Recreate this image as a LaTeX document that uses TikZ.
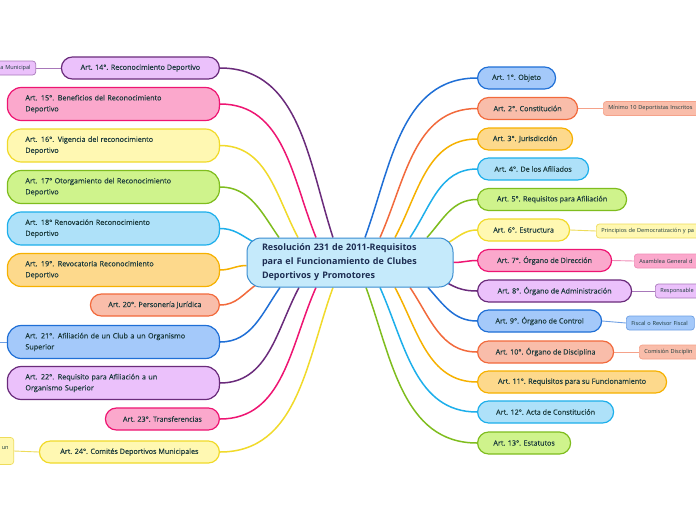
\documentclass[tikz,border=0pt]{standalone}
\usepackage{fontspec}
\setmainfont{Open Sans}
\newfontfamily\kidfont{Open Sans}[FakeBold=0.35]
\usetikzlibrary{backgrounds}
\definecolor{txt}{HTML}{1B3A3C}
\definecolor{ctxt}{HTML}{1D2D52}
\definecolor{blueF}{HTML}{A4C9FA}\definecolor{blueD}{HTML}{1F6FD6}
\definecolor{redF}{HTML}{F9BDAA}\definecolor{redD}{HTML}{F26A3C}
\definecolor{orF}{HTML}{FDD98C}\definecolor{orD}{HTML}{F6B100}
\definecolor{cyF}{HTML}{AEE1F9}\definecolor{cyD}{HTML}{1DAFEB}
\definecolor{grF}{HTML}{CFF38C}\definecolor{grD}{HTML}{7FBD1E}
\definecolor{yeF}{HTML}{FFF8B2}\definecolor{yeD}{HTML}{F1DA2A}
\definecolor{mgF}{HTML}{FBA8CC}\definecolor{mgD}{HTML}{EE1572}
\definecolor{puF}{HTML}{EBC1FB}\definecolor{puD}{HTML}{6A2B7B}
\definecolor{cenF}{HTML}{C5EAFB}\definecolor{cenD}{HTML}{3A8DD0}
\definecolor{subre}{HTML}{F5A28A}\definecolor{subye}{HTML}{EEDC5A}
\definecolor{submg}{HTML}{F08DB8}\definecolor{subpu}{HTML}{A878BA}
\definecolor{subbl}{HTML}{6E9FE4}
\begin{document}
\begin{tikzpicture}[x=1pt,y=-1pt,
  base/.style={draw, line width=1.2pt, text=txt, font=\kidfont\fontsize{7.2}{11}\selectfont, inner ysep=0pt},
  one/.style={base, minimum height=22, rounded corners=11, inner xsep=4},
  two/.style={base, minimum height=33, rounded corners=14, text width=176, inner xsep=18, align=left},
  subn/.style={draw, line width=0.7pt, text=txt, font=\fontsize{5.6}{7}\selectfont, minimum height=14, rounded corners=3, inner xsep=5, inner ysep=0pt},
  subr/.style={subn, anchor=west, text width=110, align=left},
  subl/.style={subn, anchor=east, text width=70, align=right},
  link/.style={line width=1.5pt},
  sublink/.style={line width=0.9pt},
  kbl/.style={fill=blueF,draw=blueD}, kre/.style={fill=redF,draw=redD},
  kor/.style={fill=orF,draw=orD}, kcy/.style={fill=cyF,draw=cyD},
  kgr/.style={fill=grF,draw=grD}, kye/.style={fill=yeF,draw=yeD},
  kmg/.style={fill=mgF,draw=mgD}, kpu/.style={fill=puF,draw=puD}]
\useasboundingbox (0,0) rectangle (696,520);
\clip (0,0) rectangle (696,520);
% centre
\node[draw=cenD, fill=cenF, line width=1pt, rounded corners=14, minimum width=206, minimum height=49,
      text width=176, inner xsep=15, align=left, text=ctxt,
      font=\fontsize{9}{14}\selectfont\bfseries] (c) at (350,262.5)
  {Resolución 231 de 2011-Requisitos\\para el Funcionamiento de Clubes\\Deportivos y Promotores};
% left
\node[one,kpu,minimum width=158,anchor=east] (n14) at (220,68) {Art. 14°. Reconocimiento Deportivo};
\node[two,kmg,anchor=east] (n15) at (220,104) {\mbox{Art. 15°. Beneficios del Reconocimiento}\\Deportivo};
\node[two,kye,anchor=east] (n16) at (220,145.5) {\mbox{Art. 16°. Vigencia del reconocimiento}\\Deportivo};
\node[two,kgr,anchor=east] (n17) at (220,187) {\mbox{Art. 17° Otorgamiento del Reconocimiento}\\Deportivo};
\node[two,kcy,anchor=east] (n18) at (220,228.5) {\mbox{Art. 18° Renovación Reconocimiento}\\Deportivo};
\node[two,kor,anchor=east] (n19) at (220,270) {\mbox{Art. 19°. Revocatoria Reconocimiento}\\Deportivo};
\node[one,kre,minimum width=129,anchor=east] (n20) at (220,305) {Art. 20°. Personería Jurídica};
\node[two,kbl,anchor=east] (n21) at (220,342) {\mbox{Art. 21°. Afiliación de un Club a un Organismo}\\Superior};
\node[two,kpu,anchor=east] (n22) at (220,383) {\mbox{Art. 22°. Requisito para Afiliación a un}\\Organismo Superior};
\node[one,kmg,minimum width=114,anchor=east] (n23) at (220,419) {Art. 23°. Transferencias};
\node[one,kye,minimum width=180,anchor=east] (n24) at (220,452) {Art. 24°. Comités Deportivos Municipales};
% right
\node[one,kbl,minimum width=78,anchor=west] (n1) at (477,78) {Art. 1°. Objeto};
\node[one,kre,minimum width=100,anchor=west] (n2) at (477,108.5) {Art. 2°. Constitución};
\node[one,kor,minimum width=95,anchor=west] (n3) at (477,139) {Art. 3°. Jurisdicción};
\node[one,kcy,minimum width=111,anchor=west] (n4) at (477,169) {Art. 4°. De los Afiliados};
\node[one,kgr,minimum width=149,anchor=west] (n5) at (477,199.5) {Art. 5°. Requisitos para Afiliación};
\node[one,kye,minimum width=92,anchor=west] (n6) at (477,230) {Art. 6°. Estructura};
\node[one,kmg,minimum width=134,anchor=west] (n7) at (477,260.5) {Art. 7°. Órgano de Dirección};
\node[one,kpu,minimum width=154,anchor=west] (n8) at (477,291) {Art. 8°. Órgano de Administración};
\node[one,kbl,minimum width=124,anchor=west] (n9) at (477,321) {Art. 9°. Órgano de Control};
\node[one,kre,minimum width=136,anchor=west] (n10) at (477,352) {Art. 10°. Órgano de Disciplina};
\node[one,kor,minimum width=189,anchor=west] (n11) at (477,382) {Art. 11°. Requisitos para su Funcionamiento};
\node[one,kcy,minimum width=136,anchor=west] (n12) at (477,412) {Art. 12°. Acta de Constitución};
\node[one,kgr,minimum width=93,anchor=west] (n13) at (477,443) {Art. 13°. Estatutos};
% sub nodes
\node[subr,fill=redF,draw=subre] (s2) at (603,108.5) {Mínimo 10 Deportistas Inscritos};
\node[subr,fill=yeF,draw=subye] (s6) at (596,231) {Principios de Democratización y pa};
\node[subr,fill=mgF,draw=submg] (s7) at (634,261) {Asamblea General d};
\node[subr,fill=puF,draw=subpu] (s8) at (655,291) {Responsable};
\node[subn,fill=blueF,draw=subbl,anchor=west,text width=58,align=left] (s9) at (626,323) {Fiscal o Revisor Fiscal};
\node[subr,fill=redF,draw=subre] (s10) at (639,352) {Comisión Disciplin};
\node[subl,fill=puF,draw=subpu] (s14) at (36,68) {a Municipal};
\node[subl,fill=yeF,draw=subye,minimum height=27] (s24) at (14,451) {un\\\phantom{x}};
\coordinate (e21) at (-6,342);
\begin{scope}[on background layer]
\fill[white] (0,0) rectangle (696,520);
% left connectors
\draw[link,draw=puD] ([xshift=-17pt]c.north) to[out=108,in=0] (n14.east);
\draw[link,draw=mgD] ([xshift=-34pt]c.north) to[out=112,in=0] (n15.east);
\draw[link,draw=yeD] ([xshift=-52pt]c.north) to[out=118,in=0] (n16.east);
\draw[link,draw=grD] ([xshift=-71pt]c.north) to[out=125,in=0] (n17.east);
\draw[link,draw=cyD] ([shift={(6pt,-4pt)}]c.north west) to[out=150,in=0] (n18.east);
\draw[link,draw=orD] ([yshift=-3pt]c.west) to[out=180,in=0] (n19.east);
\draw[link,draw=redD] ([shift={(10pt,3pt)}]c.south west) to[out=215,in=0] (n20.east);
\draw[link,draw=blueD] ([xshift=-70pt]c.south) to[out=235,in=0] (n21.east);
\draw[link,draw=puD] ([xshift=-51pt]c.south) to[out=242,in=0] (n22.east);
\draw[link,draw=mgD] ([xshift=-34pt]c.south) to[out=246,in=0] (n23.east);
\draw[link,draw=yeD] ([xshift=-17pt]c.south) to[out=250,in=0] (n24.east);
% right connectors
\draw[link,draw=blueD] ([xshift=15pt]c.north) to[out=70,in=180] (n1.west);
\draw[link,draw=redD] ([xshift=30pt]c.north) to[out=66,in=180] (n2.west);
\draw[link,draw=orD] ([xshift=45pt]c.north) to[out=62,in=180] (n3.west);
\draw[link,draw=cyD] ([xshift=60pt]c.north) to[out=56,in=180] (n4.west);
\draw[link,draw=grD] ([xshift=77pt]c.north) to[out=48,in=180] (n5.west);
\draw[link,draw=yeD] ([shift={(-5pt,-5pt)}]c.north east) to[out=30,in=180] (n6.west);
\draw[link,draw=mgD] (c.east) to[out=0,in=180] (n7.west);
\draw[link,draw=puD] ([shift={(-7pt,5pt)}]c.south east) to[out=-30,in=180] (n8.west);
\draw[link,draw=blueD] ([xshift=78pt]c.south) to[out=-48,in=180] (n9.west);
\draw[link,draw=redD] ([xshift=60pt]c.south) to[out=-56,in=180] (n10.west);
\draw[link,draw=orD] ([xshift=45pt]c.south) to[out=-62,in=180] (n11.west);
\draw[link,draw=cyD] ([xshift=30pt]c.south) to[out=-66,in=180] (n12.west);
\draw[link,draw=grD] ([xshift=16pt]c.south) to[out=-70,in=180] (n13.west);
% sub connectors
\draw[sublink,draw=subre] (n2.east) -- (s2.west);
\draw[sublink,draw=subye] (n6.east) -- (s6.west);
\draw[sublink,draw=submg] (n7.east) -- (s7.west);
\draw[sublink,draw=subpu] (n8.east) -- (s8.west);
\draw[sublink,draw=subbl] (n9.east) -- (s9.west);
\draw[sublink,draw=subre] (n10.east) -- (s10.west);
\draw[sublink,draw=subpu] (n14.west) -- (s14.east);
\draw[sublink,draw=subbl] (n21.west) -- (e21);
\draw[sublink,draw=subye] (n24.west) -- (s24.east);
\end{scope}
\end{tikzpicture}
\end{document}
